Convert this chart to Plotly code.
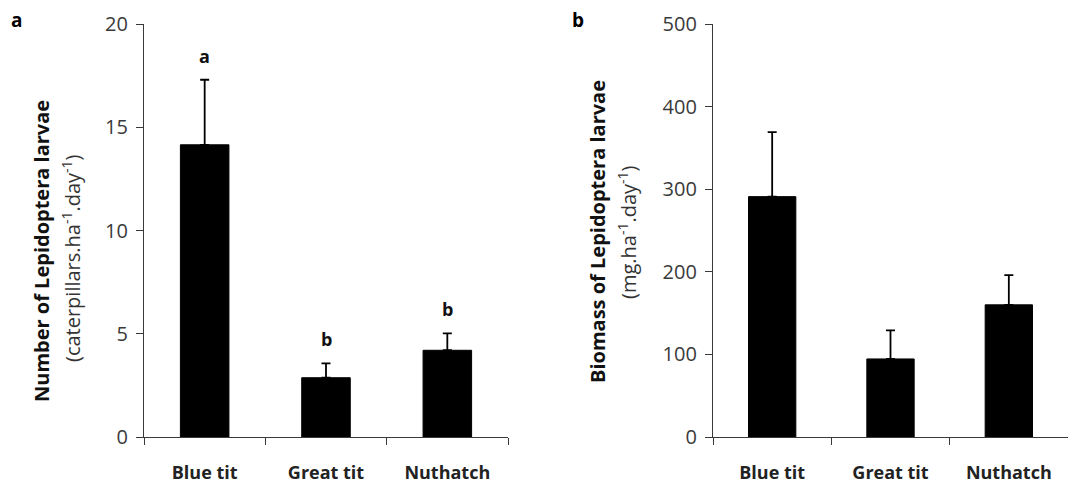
import plotly.graph_objects as go

categories = ["Blue tit", "Great tit", "Nuthatch"]
number_mean = [14.15, 2.87, 4.2]
number_se = [3.15, 0.70, 0.82]
number_letters = ["a", "b", "b"]
biomass_mean = [291, 94.5, 160]
biomass_se = [78, 34.5, 36]

# page body has an 8px margin; work in screenshot pixels and offset
OFF = 8
W, H = 1081 - OFF, 488 - OFF
TOP, BOT = 24 - OFF, 437 - OFF

def fx(px):
    return (px - OFF) / W

def fy(py):
    return (BOT - (py - OFF)) / (BOT - TOP)

fig = go.Figure()

fig.add_trace(go.Bar(
    x=categories, y=number_mean, width=0.4,
    marker=dict(color="black", line=dict(color="black", width=1)),
    error_y=dict(type="data", array=number_se, symmetric=False, arrayminus=[0, 0, 0],
                 color="black", thickness=1.8, width=4.5),
    xaxis="x", yaxis="y", showlegend=False,
))
fig.add_trace(go.Bar(
    x=categories, y=biomass_mean, width=0.4,
    marker=dict(color="black", line=dict(color="black", width=1)),
    error_y=dict(type="data", array=biomass_se, symmetric=False, arrayminus=[0, 0, 0],
                 color="black", thickness=1.8, width=4.5),
    xaxis="x2", yaxis="y2", showlegend=False,
))

FAM = "Open Sans, Noto Sans, sans-serif"
axis_color = "#3a3a3a"
tickfont = dict(family=FAM, size=20, color="#3a3a3a")
catfont = dict(family=FAM, size=18, color="#222222")

common_x = dict(
    type="category", showline=True, linecolor=axis_color, linewidth=1.2,
    ticks="outside", tickson="boundaries", ticklen=7, tickcolor=axis_color, tickwidth=1.2,
    showgrid=False, zeroline=False, tickfont=catfont, automargin=False,
)
common_y = dict(
    showline=True, linecolor=axis_color, linewidth=1.2,
    ticks="outside", ticklen=7, tickcolor=axis_color, tickwidth=1.2,
    showgrid=False, zeroline=False, tickfont=tickfont, automargin=False,
)

fig.update_layout(
    width=W, height=H,
    margin=dict(l=0, r=0, t=TOP, b=H - BOT, autoexpand=False),
    paper_bgcolor="white", plot_bgcolor="white",
    xaxis=dict(domain=[fx(144), fx(508)], anchor="y",
               tickvals=categories, ticktext=[f"<b>{c}</b>" for c in categories], **common_x),
    yaxis=dict(domain=[0, 1], anchor="x", range=[0, 20], tickvals=[0, 5, 10, 15, 20], **common_y),
    xaxis2=dict(domain=[fx(713), fx(1068)], anchor="y2",
                tickvals=categories, ticktext=[f"<b>{c}</b>" for c in categories], **common_x),
    yaxis2=dict(domain=[0, 1], anchor="x2", range=[0, 500],
                tickvals=[0, 100, 200, 300, 400, 500], **common_y),
)

fig.update_xaxes(ticklabelstandoff=19)
fig.update_yaxes(ticklabelstandoff=4)

annots = []
font_b = dict(family=FAM, size=18, color="#111111")
font_t = dict(family=FAM, size=20, color="#111111")
font_s = dict(family=FAM, size=20, color="#333333")

# significance letters
for c, m, s, l in zip(categories, number_mean, number_se, number_letters):
    annots.append(dict(x=c, y=m + s, xref="x", yref="y", text=f"<b>{l}</b>",
                       showarrow=False, xanchor="center", yanchor="bottom", yshift=10, font=font_b))

def label(px, py, text, font, angle=0):
    return dict(x=fx(px), y=fy(py), xref="paper", yref="paper", text=text, textangle=angle,
                showarrow=False, xanchor="center", yanchor="middle", font=font)

# y-axis titles
annots.append(label(42, 251, "<b>Number of Lepidoptera larvae</b>", font_t, -90))
annots.append(label(72, 258, "(caterpillars.ha<sup>-1</sup>.day<sup>-1</sup>)", font_s, -90))
annots.append(label(598, 232, "<b>Biomass of Lepidoptera larvae</b>", font_t, -90))
annots.append(label(628, 232, "(mg.ha<sup>-1</sup>.day<sup>-1</sup>)", font_s, -90))

# panel labels
annots.append(label(16, 20, "<b>a</b>", dict(family=FAM, size=19, color="black")))
annots.append(label(578, 20, "<b>b</b>", dict(family=FAM, size=19, color="black")))

fig.update_layout(annotations=annots)

fig.write_html("out.html")
